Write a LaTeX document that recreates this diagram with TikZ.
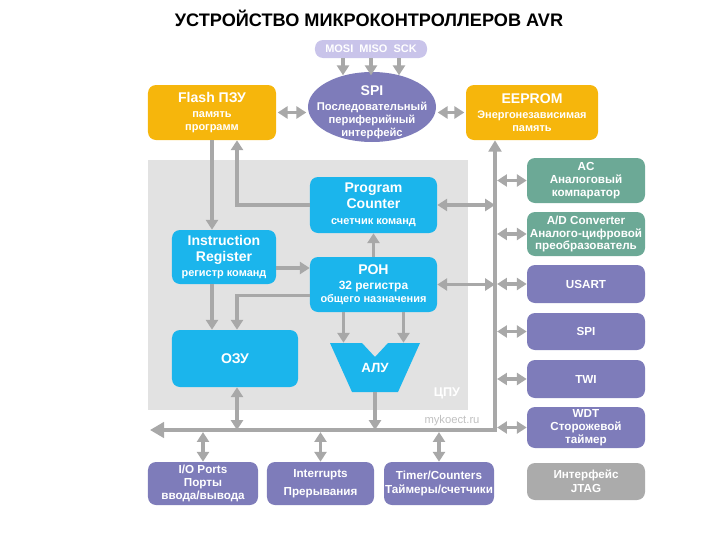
\documentclass[tikz,border=0pt]{standalone}
\usepackage{fontspec}
\setmainfont{Liberation Sans}
\usetikzlibrary{arrows.meta, positioning, calc, shapes.geometric}

\definecolor{avrorange}{HTML}{F6B60C}
\definecolor{avrcyan}{HTML}{1BB5EC}
\definecolor{avrpurple}{HTML}{7E7CBA}
\definecolor{avrteal}{HTML}{6CA996}
\definecolor{avrgray}{HTML}{ABABAB}
\definecolor{avrlav}{HTML}{C9C4EA}
\definecolor{avrcpu}{HTML}{E2E2E2}
\definecolor{avrline}{HTML}{A8A8A8}

\newcommand\btitle[1]{{\fontsize{10}{12}\selectfont #1}}

\tikzset{
  blk/.style={rounded corners=2mm, text=white, align=center, inner sep=1pt,
    font=\bfseries\fontsize{7.8}{9.3}\selectfont},
  per/.style={blk, minimum width=29.5mm, inner sep=0.5pt, font=\bfseries\fontsize{8.3}{9.1}\selectfont},
  arr/.style={draw=avrline, line width=2.2pt},
}

\begin{document}
\begin{tikzpicture}[x=0.25mm, y=-0.25mm, >={Triangle[length=7pt,width=8.5pt]}]
  \useasboundingbox (0,0) rectangle (720,540);
  % Заголовок
  \node[font=\bfseries\fontsize{12.9}{14}\selectfont] (title) at (369,18) {УСТРОЙСТВО МИКРОКОНТРОЛЛЕРОВ AVR};
  % ЦПУ
  \fill[avrcpu] (148,160) rectangle (468,410);
  \node[text=white, font=\bfseries\fontsize{9}{10}\selectfont] (cpu) at (447,393) {ЦПУ};
  \node[text=avrcpu!85!black, font=\fontsize{8}{9}\selectfont] (wmark) at (452,421) {mykoect.ru};
  % SPI
  \node[blk, fill=avrlav, minimum width=28mm, minimum height=4.5mm] (pins) at (371,49) {MOSI\ \ MISO\ \ SCK};
  \node[ellipse, fill=avrpurple, inner sep=0pt, minimum width=32mm, minimum height=17.5mm] (spi) at (372,107) {};
  \node[text=white, align=center, inner sep=0pt, font=\bfseries\fontsize{8}{9.3}\selectfont] (spitxt) at ($(spi)+(0,5)$)
    {\btitle{SPI}\\[1.5pt] Последовательный\\ периферийный\\ интерфейс};
  % Память
  \node[blk, fill=avrorange, minimum width=32mm, minimum height=13.75mm] (flash) at (212,112.5)
    {\btitle{Flash ПЗУ}\\[1.5pt] память\\ программ};
  \node[blk, fill=avrorange, minimum width=33mm, minimum height=13.75mm] (eeprom) at (532,112.5)
    {\btitle{EEPROM}\\[1.5pt] Энергонезависимая\\ память};
  % Блоки ЦПУ
  \node[blk, fill=avrcyan, minimum width=31.75mm, minimum height=14mm] (pc) at (373.5,205)
    {\btitle{Program}\\[2pt] \btitle{Counter}\\[2.5pt] счетчик команд};
  \node[blk, fill=avrcyan, minimum width=26mm, minimum height=13.5mm] (ir) at (224,257)
    {\btitle{Instruction}\\[2pt] \btitle{Register}\\[1.5pt] регистр команд};
  \node[blk, fill=avrcyan, minimum width=31.75mm, minimum height=13.75mm] (pon) at (373.5,284.5)
    {\btitle{РОН}\\[1.5pt] {\fontsize{8.5}{9.5}\selectfont 32 регистра}\\ общего назначения};
  \node[blk, fill=avrcyan, minimum width=31.5mm, minimum height=14.25mm] (ram) at (235,358.5)
    {\btitle{ОЗУ}};
  \fill[avrcyan] (330,343) -- (362,343) -- (375,357) -- (388,343) -- (420,343) -- (398,392) -- (352,392) -- cycle;
  \node[text=white, inner sep=0pt, minimum width=22.5mm, minimum height=12.25mm,
    font=\bfseries\fontsize{9.5}{10}\selectfont] (alu) at (375,367.5) {\raisebox{-0.9mm}{АЛУ}};
  % Периферия справа
  \node[per, fill=avrteal, minimum height=11.25mm] (ac) at (586,180.5) {AC\\ Аналоговый\\ компаратор};
  \node[per, fill=avrteal, minimum height=11mm] (adc) at (586,234) {A/D Converter\\ Аналого-цифровой\\ преобразователь};
  \node[per, fill=avrpurple, minimum height=9.5mm] (usart) at (586,284) {USART};
  \node[per, fill=avrpurple, minimum height=9.25mm] (spib) at (586,331.5) {SPI};
  \node[per, fill=avrpurple, minimum height=9.5mm] (twi) at (586,379) {TWI};
  \node[per, fill=avrpurple, minimum height=10.25mm] (wdt) at (586,427.5) {WDT\\ Сторожевой\\ таймер};
  \node[per, fill=avrgray, minimum height=9.25mm] (jtag) at (586,481.5) {Интерфейс\\[1pt] JTAG};
  % Периферия снизу
  \node[per, fill=avrpurple, minimum width=27.5mm, minimum height=10.75mm] (io) at (203,483.5) {I/O Ports\\ Порты\\ ввода/вывода};
  \node[per, fill=avrpurple, minimum width=26.75mm, minimum height=10.75mm] (irq) at (320.5,483.5) {Interrupts\\[4pt] Прерывания};
  \node[per, fill=avrpurple, minimum width=27.5mm, minimum height=10.75mm] (tmr) at (439,483.5) {Timer/Counters\\[1.5pt] Таймеры/счетчики};
  % Шина
  \coordinate (busL) at (150,430);
  \coordinate (busC) at (495,430);
  \draw[arr, {Triangle[length=10pt,width=11pt]}-{Triangle[length=8pt,width=9pt]}] (busL) -- (busC) -- (busC |- eeprom.south);
  % Связи SPI
  \foreach \dx in {-28,0,28}
    \draw[arr,->] ($(pins.south)+(\dx,0)$) -- ++(0,17);
  \draw[arr,<->, shorten >=1pt, shorten <=1pt] (flash.east) -- (flash.east -| spi.west);
  \draw[arr,<->, shorten >=1pt, shorten <=1pt] (eeprom.west) -- (eeprom.west -| spi.east);
  % Связи ЦПУ
  \draw[arr,->] (flash.south) -- (flash.south |- ir.north);
  \draw[arr,->] (pc.west) -| ($(flash.south)+(25,0)$);
  \draw[arr,<->] (pc.east) -- (pc.east -| busC);
  \draw[arr,->] ($(ir.east)+(0,11)$) coordinate (a) -- (a -| pon.west);
  \draw[arr,->] (pon.north) -- (pc.south);
  \draw[arr,<->] (pon.east) -- (pon.east -| busC);
  \draw[arr,->] ($(pon.west)+(0,11)$) -| ($(ram.north)+(2,0)$);
  \draw[arr,->] (ir.south -| flash.south) -- (flash.south |- ram.north);
  \foreach \dx in {-30,30}
    \draw[arr,->] ($(pon.south)+(\dx,0)$) coordinate (b) -- (b |- alu.north);
  \draw[arr,->] (alu.south) -- (alu.south |- busL);
  \draw[arr,<->] ($(ram.south)+(2,0)$) coordinate (c) -- (c |- busL);
  % Связи с периферией
  \foreach \p in {ac,adc,usart,spib,twi,wdt}
    \draw[arr,<->, shorten <=1.5pt] (\p.west -| busC) -- (\p.west);
  \foreach \p in {io,irq,tmr}
    \draw[arr,<->, shorten <=1.5pt] (\p.north |- busL) -- (\p.north);
\end{tikzpicture}
\end{document}
